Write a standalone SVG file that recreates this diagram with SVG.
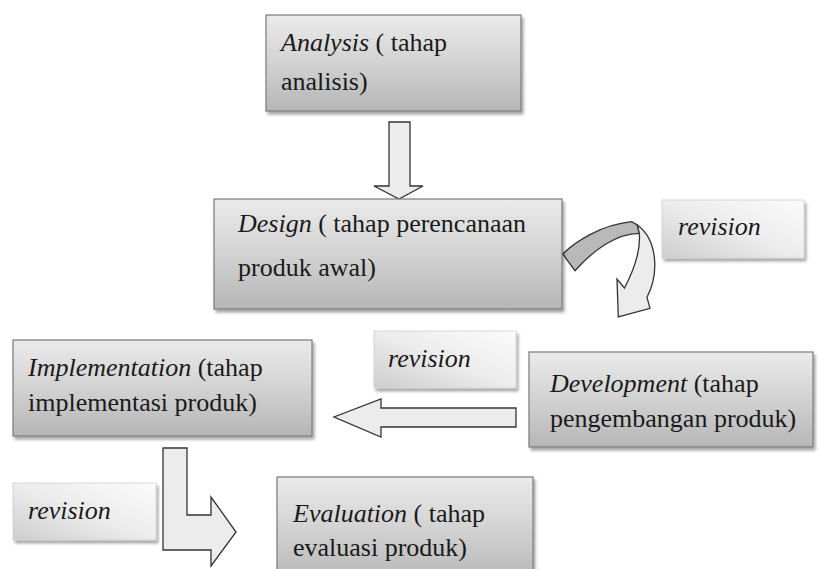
<svg xmlns="http://www.w3.org/2000/svg" width="821" height="569" viewBox="0 0 821 569">
<style>
.box{fill:url(#boxGrad);stroke:#7a7a7a;stroke-width:1.2;filter:url(#shadow)}
.rev{fill:url(#revGrad);stroke:#cfcfcf;stroke-width:0.8;filter:url(#shadow)}
.t{font-family:'Liberation Serif','Times New Roman',serif;font-size:26px;fill:#1a1a1a}
.r{font-family:'Liberation Serif','Times New Roman',serif;font-size:26px;font-style:italic;fill:#1a1a1a}
.i{font-style:italic}
.arrow{fill:#ececec;stroke:#333;stroke-width:1.3;stroke-linejoin:miter}
.band{fill:#b9b9b9;stroke:#333;stroke-width:1.3}
</style>
<defs>
<linearGradient id="boxGrad" x1="0" y1="0" x2="0" y2="1">
<stop offset="0" stop-color="#eaeaea"/>
<stop offset="0.5" stop-color="#d2d2d2"/>
<stop offset="1" stop-color="#b6b6b6"/>
</linearGradient>
<linearGradient id="revGrad" x1="1" y1="0" x2="0" y2="1">
<stop offset="0" stop-color="#fbfbfb"/>
<stop offset="0.5" stop-color="#ececec"/>
<stop offset="1" stop-color="#cdcdcd"/>
</linearGradient>
<filter id="shadow" x="-10%" y="-10%" width="125%" height="130%">
<feDropShadow dx="2" dy="3" stdDeviation="1.8" flood-color="#000" flood-opacity="0.35"/>
</filter>
</defs>
<rect width="821" height="569" fill="#ffffff"/>

<g id="connectors">
<polygon class="arrow" points="389,122 410,122 410,186 423,186 399,199 374,186 389,186"/>
<path class="band" d="M562.7,254 C575,242 600,225 631.7,221.7 L637.3,225 L639.3,233.3 C616.7,233.3 593.3,250 575,270.7 Z"/>
<path class="arrow" d="M637.3,225 C658,240 659,274 647,297.3 L650,308.3 L618.3,317 L617,279 L624.5,288 C635.5,267 640.5,247 639.3,233.3 Z"/>
<polygon class="arrow" points="516,408 381,408 381,399 334,417 381,437 381,427 516,427"/>
<polygon class="arrow" points="163,448 187,448 187,515 211,515 211,497 236,532 211,566 211,550 163,550"/>
</g>

<g id="analysis">
<rect class="box" x="266" y="15" width="255" height="96"/>
<text class="t" x="281" y="51"><tspan class="i">Analysis</tspan> ( tahap</text>
<text class="t" x="281" y="90">analisis)</text>
</g>

<g id="design">
<rect class="box" x="214" y="199" width="348" height="110"/>
<text class="t" x="238" y="232"><tspan class="i">Design</tspan> ( tahap perencanaan</text>
<text class="t" x="238" y="276">produk awal)</text>
</g>

<g id="revision1">
<rect class="rev" x="662" y="200" width="142" height="58"/>
<text class="r" x="678" y="235">revision</text>
</g>

<g id="development">
<rect class="box" x="529" y="352" width="284" height="95"/>
<text class="t" x="550" y="392"><tspan class="i">Development</tspan> (tahap</text>
<text class="t" x="550" y="427">pengembangan produk)</text>
</g>

<g id="revision2">
<rect class="rev" x="374" y="331" width="142" height="57"/>
<text class="r" x="388" y="367">revision</text>
</g>

<g id="implementation">
<rect class="box" x="13" y="340" width="299" height="96"/>
<text class="t" x="28" y="376"><tspan class="i">Implementation</tspan> (tahap</text>
<text class="t" x="28" y="411">implementasi produk)</text>
</g>

<g id="revision3">
<rect class="rev" x="13" y="483" width="143" height="57"/>
<text class="r" x="28" y="519">revision</text>
</g>

<g id="evaluation">
<rect class="box" x="277" y="477" width="256" height="105"/>
<text class="t" x="293" y="522"><tspan class="i">Evaluation</tspan> ( tahap</text>
<text class="t" x="293" y="556">evaluasi produk)</text>
</g>
</svg>
